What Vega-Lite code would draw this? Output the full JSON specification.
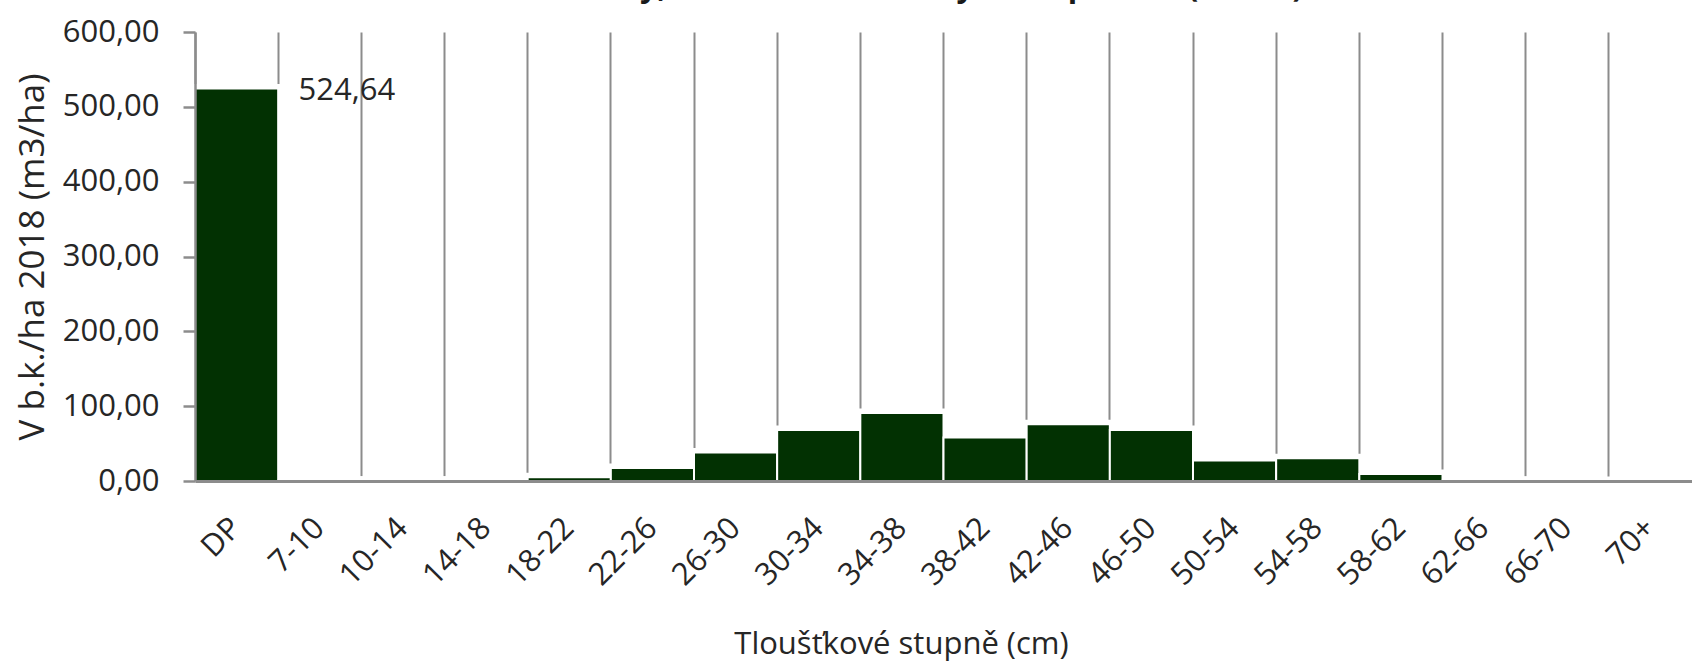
{
  "$schema": "https://vega.github.io/schema/vega-lite/v6.json",
  "autosize": {"type": "none"},
  "padding": {"left": 195, "top": 32, "right": 0, "bottom": 186},
  "width": 1497,
  "height": 449,
  "background": "white",
  "config": {
    "view": {"stroke": null},
    "font": "Open Sans",
    "locale": {"number": {"decimal": ",", "thousands": " ", "grouping": [3], "currency": ["", " Kč"]}}
  },
  "title": {
    "text": "DP – Živé stromy, 2018 dle tloušťkových stupňů – V (m³/ha)",
    "font": "Open Sans",
    "fontSize": 31,
    "fontWeight": "bold",
    "color": "#1a1a1a",
    "anchor": "middle",
    "frame": "group",
    "baseline": "alphabetic",
    "offset": -12,
    "dx": -91
  },
  "data": {
    "values": [
      {"cat": "DP", "v": 524.64},
      {"cat": "7-10", "v": 0.3},
      {"cat": "10-14", "v": 0.2},
      {"cat": "14-18", "v": 0.2},
      {"cat": "18-22", "v": 5},
      {"cat": "22-26", "v": 17.5},
      {"cat": "26-30", "v": 38},
      {"cat": "30-34", "v": 68},
      {"cat": "34-38", "v": 91},
      {"cat": "38-42", "v": 58},
      {"cat": "42-46", "v": 76},
      {"cat": "46-50", "v": 68},
      {"cat": "50-54", "v": 27.5},
      {"cat": "54-58", "v": 30.5},
      {"cat": "58-62", "v": 9.5},
      {"cat": "62-66", "v": 0.3},
      {"cat": "66-70", "v": 0.1},
      {"cat": "70+", "v": null}
    ]
  },
  "resolve": {"axis": {"x": "independent"}},
  "layer": [
    {
      "mark": {"type": "bar", "color": "white", "stroke": "white", "strokeWidth": 9, "width": {"band": 1}},
      "encoding": {
        "x": {
          "field": "cat",
          "type": "nominal",
          "sort": null,
          "scale": {"domain": ["DP","7-10","10-14","14-18","18-22","22-26","26-30","30-34","34-38","38-42","42-46","46-50","50-54","54-58","58-62","62-66","66-70","70+"], "paddingInner": 0, "paddingOuter": 0},
          "axis": {
            "orient": "bottom",
            "title": null,
            "labels": false,
            "ticks": false,
            "domain": false,
            "grid": true,
            "gridColor": "#8c8c8c",
            "gridWidth": 2,
            "bandPosition": 0,
            "zindex": 0
          }
        },
        "y": {
          "field": "v",
          "type": "quantitative",
          "scale": {"domain": [0, 600], "nice": false},
          "axis": {
            "title": "V b.k./ha 2018 (m3/ha)",
            "titleFont": "Open Sans",
            "titleFontSize": 35,
            "titleFontWeight": "normal",
            "titleColor": "#262626",
            "titleX": -163,
            "titleY": 224.5,
            "titleAlign": "center",
            "titleBaseline": "middle",
            "titleAngle": -90,
            "values": [0, 100, 200, 300, 400, 500, 600],
            "format": ".2f",
            "labelFont": "Open Sans",
            "labelFontSize": 31,
            "labelColor": "#262626",
            "labelPadding": 24,
            "tickSize": 12,
            "tickColor": "#8c8c8c",
            "tickWidth": 2.5,
            "domainColor": "#8c8c8c",
            "domainWidth": 2.5,
            "grid": false,
            "zindex": 1
          }
        }
      }
    },
    {
      "mark": {"type": "bar", "color": "#023102", "stroke": "white", "strokeWidth": 2, "width": {"band": 1}},
      "encoding": {
        "x": {
          "field": "cat",
          "type": "nominal",
          "sort": null,
          "axis": {
            "orient": "bottom",
            "title": "Tloušťkové stupně (cm)",
            "titleFont": "Open Sans",
            "titleFontSize": 31,
            "titleFontWeight": "normal",
            "titleColor": "#262626",
            "titleX": 706,
            "titleY": 172,
            "titleAlign": "center",
            "titleBaseline": "alphabetic",
            "labelAngle": -45,
            "labelAlign": "right",
            "labelBaseline": "middle",
            "labelFont": "Open Sans",
            "labelFontSize": 31,
            "labelColor": "#262626",
            "labelPadding": 42,
            "ticks": false,
            "domain": true,
            "domainColor": "#8c8c8c",
            "domainWidth": 3,
            "grid": false,
            "zindex": 1
          }
        },
        "y": {"field": "v", "type": "quantitative"}
      }
    },
    {
      "transform": [{"filter": "datum.cat === 'DP'"}],
      "mark": {"type": "text", "align": "left", "baseline": "middle", "dx": 62, "dy": 3, "fontSize": 31, "font": "Open Sans", "color": "#262626"},
      "encoding": {
        "x": {"field": "cat", "type": "nominal", "sort": null, "axis": null},
        "y": {"field": "v", "type": "quantitative"},
        "text": {"field": "v", "type": "quantitative", "format": ".2f"}
      }
    }
  ]
}
